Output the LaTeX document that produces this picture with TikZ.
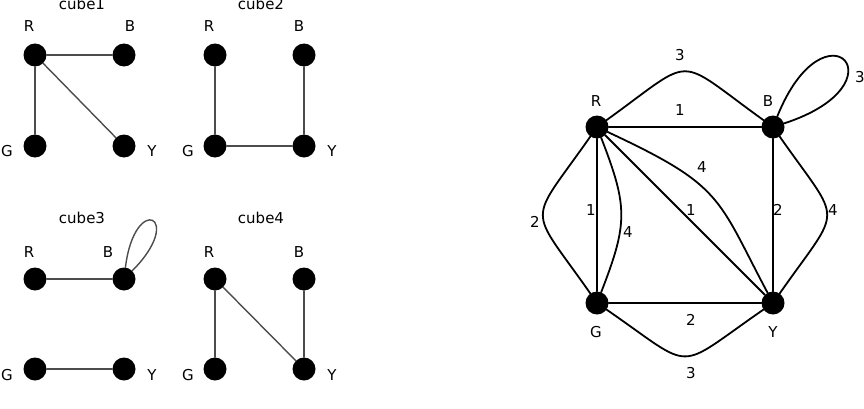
\documentclass[tikz,border=0pt]{standalone}
\usepackage{fontspec}
\setmainfont{DejaVu Sans}
\begin{document}
\begin{tikzpicture}[x=1pt, y=1pt, line cap=round,
    vtx/.style={circle, fill=black, inner sep=0pt, minimum size=23pt},
    txt/.style={font=\fontsize{15}{18}\selectfont, inner sep=0pt},
    lbl/.style={txt, anchor=base},
    thin edge/.style={draw=black!70, line width=1.4pt},
    thick edge/.style={draw=black, line width=1.8pt}]
    \useasboundingbox (0,0) rectangle (864,408);

    % cube1
    \node[lbl] (t1) at (82,398) {cube1};
    \node[vtx] (r1) at (35,353) {};
    \node[vtx] (b1) at (124,353) {};
    \node[vtx] (g1) at (35,262) {};
    \node[vtx] (y1) at (124,262) {};
    \node[lbl] (lr1) at (29,376) {R};
    \node[lbl] (lb1) at (130,376) {B};
    \node[lbl] (lg1) at (7,252) {G};
    \node[lbl] (ly1) at (152,252) {Y};
    \draw[thin edge] (r1) -- (b1);
    \draw[thin edge] (r1) -- (g1);
    \draw[thin edge] (r1) -- (y1);

    % cube2
    \node[lbl] (t2) at (261,398) {cube2};
    \node[vtx] (r2) at (215,353) {};
    \node[vtx] (b2) at (304,353) {};
    \node[vtx] (g2) at (215,262) {};
    \node[vtx] (y2) at (304,262) {};
    \node[lbl] (lr2) at (209,376) {R};
    \node[lbl] (lb2) at (299,376) {B};
    \node[lbl] (lg2) at (188,252) {G};
    \node[lbl] (ly2) at (332,252) {Y};
    \draw[thin edge] (r2) -- (g2);
    \draw[thin edge] (g2) -- (y2);
    \draw[thin edge] (b2) -- (y2);

    % cube3
    \node[lbl] (t3) at (82,185) {cube3};
    \node[vtx] (r3) at (35,129) {};
    \node[vtx] (b3) at (124,129) {};
    \node[vtx] (g3) at (35,39) {};
    \node[vtx] (y3) at (124,39) {};
    \node[lbl] (lr3) at (29,151) {R};
    \node[lbl] (lb3) at (108,151) {B};
    \node[lbl] (lg3) at (7,28) {G};
    \node[lbl] (ly3) at (152,28) {Y};
    \draw[thin edge] (r3) -- (b3);
    \draw[thin edge] (g3) -- (y3);
    \draw[thin edge] (b3) .. controls +(83:88) and +(45:88) .. (b3);

    % cube4
    \node[lbl] (t4) at (261,185) {cube4};
    \node[vtx] (r4) at (215,129) {};
    \node[vtx] (b4) at (304,129) {};
    \node[vtx] (g4) at (215,39) {};
    \node[vtx] (y4) at (304,39) {};
    \node[lbl] (lr4) at (209,151) {R};
    \node[lbl] (lb4) at (299,151) {B};
    \node[lbl] (lg4) at (188,28) {G};
    \node[lbl] (ly4) at (332,28) {Y};
    \draw[thin edge] (r4) -- (g4);
    \draw[thin edge] (r4) -- (y4);
    \draw[thin edge] (b4) -- (y4);

    % all four cubes together
    \node[vtx] (R) at (597,281) {};
    \node[vtx] (B) at (773,281) {};
    \node[vtx] (G) at (597,105) {};
    \node[vtx] (Y) at (773,105) {};
    \node[lbl] (lR) at (596,302) {R};
    \node[lbl] (lB) at (768,302) {B};
    \node[lbl] (lG) at (596,71) {G};
    \node[lbl] (lY) at (773,71) {Y};

    \draw[thick edge] (R) -- (B);
    \draw[thick edge] (R) .. controls +(100,72) and +(-100,72) .. (B);
    \draw[thick edge] (B) .. controls +(68:140) and +(18:140) .. (B);
    \draw[thick edge] (R) -- (G);
    \draw[thick edge] (R) .. controls +(-70,-100) and +(-70,100) .. (G);
    \draw[thick edge] (R) .. controls +(31,-80) and +(31,80) .. (G);
    \draw[thick edge] (R) -- (Y);
    \draw[thick edge] (R) .. controls +(-25:140) and +(118:120) .. (Y);
    \draw[thick edge] (B) -- (Y);
    \draw[thick edge] (B) .. controls +(70,-100) and +(70,100) .. (Y);
    \draw[thick edge] (G) -- (Y);
    \draw[thick edge] (G) .. controls +(100,-69) and +(-100,-69) .. (Y);

    % edge numbers
    \node[txt] (n1) at (680,298) {1};
    \node[txt] (n2) at (680,353) {3};
    \node[txt] (n3) at (860,331) {3};
    \node[txt] (n4) at (591,198) {1};
    \node[txt] (n5) at (535,186) {2};
    \node[txt] (n6) at (628,176) {4};
    \node[txt] (n7) at (691,198) {1};
    \node[txt] (n8) at (702,241) {4};
    \node[txt] (n9) at (778,198) {2};
    \node[txt] (n10) at (833,198) {4};
    \node[txt] (n11) at (691,88) {2};
    \node[txt] (n12) at (691,35) {3};
\end{tikzpicture}
\end{document}
